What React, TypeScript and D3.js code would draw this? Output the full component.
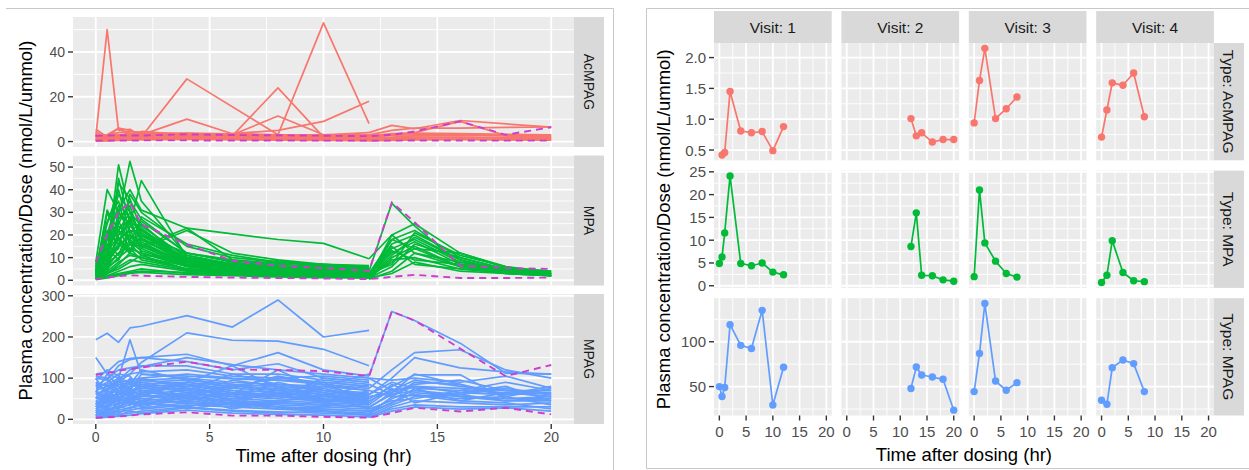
import React from "react";
import * as d3 from "d3";

// ---------- shared ----------
const TYPES = ["AcMPAG", "MPA", "MPAG"];
const TYPE_COLORS = ["#F8766D", "#00BA38", "#619CFF"];
const QUANTILE_COLOR = "#CC3FCC";

// ---------- left chart: all subjects ----------
const T_VISIT1 = [0, 0.5, 1, 1.5, 2, 4, 6, 8, 10, 12];
const T_VISIT2 = [12, 13, 14, 16, 18, 20];
const T_QUANT = [0, 0.5, 1, 1.5, 2, 4, 6, 8, 10, 12, 13, 14, 16, 18, 20];

type V = (number | null)[];

const ACMPAG_VISIT1: V[] = [
  [2, 50, 5, 5.5, 2, 2, 1.5, 1, 1, 1],
  [1, 1.5, 2, 2.5, 2, 28, null, 3, 2, 1.5],
  [1.5, 2, 2.5, 3, 3, 10, 3.5, 3, 2.5, 2],
  [2, 3, 6, 5, 3, 3.5, 3, 11.4, 3, 2.5],
  [1.2, 2.5, 3, 2, 2.5, 3, 2.5, 24, 2, 1.5],
  [3, 2, 2.5, 2, 3, 3, 2.5, 3, 53, 8],
  [1, 1.5, 2, 2, 2.5, 3, 3.5, 5, 9, 18],
  [5.5, 2, 6, 3, 4.5, 3, 2.5, 2, 2.5, 2],
  [4.5, 1, 1.5, 4.5, 4, 3, 2, 2, 3, 4],
  [0.5, 0.8, 1, 1.2, 1.3, 1.5, 1.3, 1.2, 1, 0.8],
  [1, 1.2, 1.5, 1.8, 2, 2.2, 2, 1.8, 1.5, 1.2],
  [1.5, 1.8, 2.2, 2.5, 2.8, 3, 2.6, 2.3, 2, 1.8],
  [0.3, 0.5, 0.7, 0.9, 1, 1.1, 1, 0.9, 0.7, 0.5],
  [2, 2.5, 3, 3.5, 3.2, 3.8, 3.4, 3, 2.6, 2.2],
  [0.8, 1, 1.3, 1.5, 1.7, 2, 1.7, 1.5, 1.3, 1],
  [1.2, 2, 2.8, 3, 3.5, 2.5, 2.2, 2, 1.8, 1.5],
  [0.2, 0.3, 0.5, 0.6, 0.8, 0.9, 0.8, 0.6, 0.5, 0.4],
  [2.5, 3, 4, 4.5, 4, 3.5, 3, 2.8, 3, 3],
  [0.6, 1.5, 2.4, 2, 1.5, 1.2, 1.8, 2.5, 1.5, 1],
];
const ACMPAG_VISIT2: V[] = [
  [4, 7.2, 5.7, 9.4, null, 6.4],
  [2, 3, 4, 9, 2.7, 2],
  [3, 5, 6, 6, 6.3, 6.5],
  [1, 1.2, 1.5, 1.8, 1.5, 1.2],
  [1.5, 2, 2.5, 2.8, 2.5, 2],
  [0.5, 0.8, 1, 1.2, 1, 0.8],
  [2, 2.8, 3, 3.2, 3, 2.6],
  [0.8, 1.5, 2, 2, 1.8, 1.5],
  [0.3, 0.5, 0.7, 0.8, 0.7, 0.6],
  [2.5, 3.5, 3.8, 3.5, 3.2, 3],
];
const ACMPAG_QUANT: V[] = [
  [2.6, 2.7, 2.8, 2.7, 2.7, 3.2, 2.9, 2.8, 2.6, 2.4, 3, 4.5, 9, 3, 6.4],
  [0.4, 0.4, 0.45, 0.45, 0.5, 0.5, 0.45, 0.45, 0.4, 0.4, 0.4, 0.45, 0.45, 0.4, 0.4],
];

const MPA_VISIT1: V[] = [
  [5, 12, 51, 30, 20, 9, 6, 5, 4, 3.5],
  [3, 10, 28, 52.5, 35, 11, 7, 5.5, 4.5, 3.5],
  [8, 40, 30, 25, 18, 8, 5.5, 4, 3.5, 3],
  [2, 8, 20, 25, 44, 10, 6.5, 5, 4, 3],
  [6, 20, 31, 40, 31, 23, 20.5, 18, 16.3, 9.5],
  [4, 31, 22, 18, 25, 8, 6, 5, 4.5, 4],
  [3, 8, 15, 20, 15, 23, 9, 6, 4.5, 3],
  [7, 18, 25, 35, 27, 12, 8, 6, 5, 4],
  [5, 14, 22, 30, 24, 10, 7, 5.5, 4.5, 4],
  [4, 12, 20, 26, 22, 9, 6.5, 5, 4, 3.5],
  [3, 10, 18, 22, 20, 8, 6, 4.5, 4, 3.5],
  [2, 8, 15, 20, 17, 7, 5, 4, 3.5, 3],
  [1, 6, 12, 16, 15, 6.5, 4.5, 3.5, 3, 2.5],
  [1, 5, 10, 14, 12, 6, 4, 3, 2.5, 2],
  [0.5, 4, 8, 11, 10, 5, 3.5, 3, 2.5, 2],
  [0.5, 3, 6, 9, 8, 4.5, 3, 2.5, 2, 1.5],
  [1, 2, 4, 6, 7, 4, 3, 2, 1.8, 1.5],
  [0.5, 2, 3, 4, 5, 3, 2.5, 1.8, 1.5, 1],
  [6, 25, 40, 20, 15, 8, 6.5, 5.5, 5, 4],
  [3, 30, 18, 12, 10, 6.5, 5, 4, 3.5, 3],
  [2, 5, 45, 25, 18, 9, 7, 6, 5.5, 5],
  [4, 10, 14, 38, 30, 15, 10, 8, 6.5, 5.5],
  [2, 18, 33, 28, 12, 7, 6, 8.7, 6, 4.5],
  [5, 9, 16, 12, 28, 16, 11, 8, 7, 6],
  [1, 4, 22, 14, 9, 5, 4, 3, 2.5, 2],
  [3, 6, 9, 18, 14, 22, 12, 9, 7, 5.5],
  [8, 7, 12, 16, 18, 9, 6.5, 5.5, 5, 4.5],
  [0.5, 15, 26, 17, 13, 7, 5, 4, 3.5, 3],
  [2, 12, 43, 36, 22, 11, 7, 5, 3.5, 3],
  [1.5, 3, 7, 12, 20, 12, 9, 7.5, 7, 6.5],
  [1.5, 12, 24, 19, 16, 7, 4.5, 3.5, 3, 2.5],
  [4, 22, 16, 28, 21, 9, 5.5, 4.5, 4, 3],
  [6, 9, 30, 22, 14, 6, 4, 3, 2.5, 1.5],
  [2.5, 16, 11, 24, 19, 7, 5, 4.5, 3, 2],
  [0.8, 7, 19, 13, 23, 8, 6, 5, 4.5, 4],
  [3.5, 26, 35, 16, 11, 5, 3.5, 2.5, 2, 1.5],
  [5, 11, 27, 33, 16, 8, 5.5, 3.5, 2.5, 2],
  [1, 3, 5, 8, 11, 10, 7.5, 6.5, 5.5, 4.5],
  [7, 14, 9, 21, 26, 12, 8.5, 7, 6, 5.5],
  [2, 20, 38, 30, 20, 10, 6, 4.5, 3.5, 2.5],
  [0.3, 1, 2, 3, 3.5, 2.5, 2, 1.5, 1.2, 1],
  [0.8, 1.5, 2.5, 3.5, 4, 3.5, 2.5, 2.2, 1.8, 1.6],
];
const MPA_VISIT2: V[] = [
  [4, 34, 24, 7, 5, 4],
  [9.5, 20, 25, 12, 5.6, 4],
  [3, 18, 22, 10, 5, 3],
  [2, 16, 20, 9, 4, 3],
  [2, 14, 18, 8, 5, 3],
  [1, 20, 12, 8, 4, 2],
  [3, 12, 17, 7, 4, 3],
  [1, 10, 15, 6, 3, 2],
  [2, 8, 14, 12, 6, 3],
  [1, 6, 16, 10, 5, 2],
  [1, 9, 10, 5, 3, 2],
  [0.5, 4, 12, 6, 4, 2],
  [1, 3, 8, 4, 3, 2],
  [2, 15, 7, 5, 4, 3],
  [1, 18, 14, 6, 5, 2],
  [1.5, 11, 19, 9, 4.5, 2.5],
  [3, 7, 21, 11, 6, 3.5],
  [0.8, 13, 9, 7, 3.5, 2.5],
];
const MPA_QUANT: V[] = [
  [7.9, 20, 30, 34.4, 24.7, 15.8, 8.6, 6.4, 5.4, 4.2, 34.4, 25.7, 6.4, 5.4, 5.0],
  [0.5, 1.2, 1.8, 2.2, 2, 1.5, 1.2, 1, 0.8, 0.5, 1.5, 2.4, 1, 1, 1.2],
];

const MPAG_VISIT1: V[] = [
  [193, 209, 187, 222, 226, 252, 224, 290, 200, 216],
  [60, 75, 90, 110, 138, 210, 192, 190, 170, 130],
  [150, 110, 100, 193, 110, 105, 98, 95, 90, 80],
  [100, 95, 130, 145, 150, 158, 130, 162, 120, 105],
  [110, 115, 140, 148, 150, 140, 120, 135, 100, 90],
  [105, 100, 120, 125, 130, 130, 110, 110, 95, 85],
  [90, 80, 95, 120, 128, 150, 133, 120, 110, 100],
  [80, 85, 100, 110, 115, 120, 105, 100, 90, 80],
  [70, 80, 90, 95, 100, 110, 100, 95, 85, 70],
  [60, 70, 85, 90, 95, 100, 90, 85, 80, 70],
  [55, 65, 75, 85, 90, 95, 85, 80, 70, 60],
  [50, 60, 70, 80, 85, 90, 80, 75, 65, 55],
  [45, 55, 62, 70, 80, 85, 75, 70, 60, 50],
  [40, 50, 60, 65, 75, 80, 70, 65, 55, 45],
  [35, 45, 55, 60, 70, 75, 65, 60, 50, 42],
  [30, 40, 50, 55, 62, 70, 60, 55, 48, 40],
  [25, 35, 45, 50, 55, 65, 55, 50, 45, 38],
  [20, 30, 38, 45, 50, 60, 50, 45, 40, 35],
  [15, 25, 32, 40, 45, 55, 45, 40, 35, 30],
  [10, 20, 28, 35, 40, 50, 40, 35, 30, 25],
  [8, 15, 22, 28, 35, 45, 35, 30, 25, 20],
  [5, 10, 18, 22, 28, 40, 30, 25, 20, 15],
  [5, 8, 12, 15, 20, 30, 22, 18, 15, 10],
  [3, 5, 8, 10, 14, 22, 15, 12, 10, 6],
  [100, 60, 45, 80, 100, 75, 60, 120, 70, 50],
  [20, 50, 100, 70, 40, 30, 50, 60, 90, 40],
  [65, 110, 80, 50, 60, 90, 130, 75, 60, 45],
  [40, 30, 60, 100, 80, 50, 40, 30, 25, 20],
  [85, 70, 50, 40, 35, 60, 80, 100, 105, 95],
  [30, 70, 95, 60, 50, 40, 35, 45, 55, 65],
  [12, 10, 25, 60, 90, 70, 45, 30, 20, 10],
  [75, 90, 110, 105, 70, 55, 45, 40, 35, 30],
  [55, 40, 70, 60, 85, 65, 50, 70, 45, 60],
  [35, 60, 40, 75, 55, 90, 70, 55, 75, 50],
  [25, 45, 65, 40, 70, 50, 85, 60, 40, 70],
  [70, 50, 35, 55, 45, 75, 55, 90, 65, 35],
  [15, 35, 50, 70, 60, 45, 65, 50, 80, 55],
  [45, 25, 55, 35, 65, 85, 45, 65, 55, 85],
  [90, 65, 75, 95, 65, 60, 95, 80, 50, 45],
  [10, 25, 15, 30, 25, 35, 30, 40, 35, 30],
  [40, 20, 30, 25, 45, 25, 40, 25, 30, 50],
  [65, 45, 85, 70, 110, 100, 75, 105, 85, 75],
  [20, 15, 40, 45, 30, 55, 25, 45, 60, 25],
  [50, 85, 60, 90, 75, 70, 110, 85, 70, 65],
  [8, 18, 10, 20, 15, 28, 20, 15, 20, 12],
  [30, 55, 25, 50, 35, 60, 35, 75, 40, 55],
  [80, 100, 65, 75, 95, 85, 65, 55, 100, 90],
  [95, 120, 105, 85, 120, 95, 85, 70, 80, 110],
];
const MPAG_VISIT2: V[] = [
  [105, 262, 240, 185, 112, 110],
  [75, 120, 162, 169, 120, 100],
  [60, 100, 150, 125, 115, 110],
  [50, 80, 108, 108, 50, 55],
  [100, 95, 100, 90, 105, 75],
  [45, 70, 95, 80, 70, 70],
  [30, 60, 80, 65, 60, 65],
  [20, 50, 70, 60, 75, 60],
  [15, 40, 65, 55, 50, 50],
  [10, 35, 55, 60, 45, 45],
  [5, 30, 45, 40, 35, 40],
  [8, 25, 35, 30, 30, 30],
  [5, 20, 30, 25, 28, 20],
  [100, 70, 80, 75, 70, 60],
  [60, 90, 75, 70, 65, 55],
  [40, 85, 60, 50, 55, 35],
  [25, 45, 50, 70, 90, 70],
  [12, 55, 58, 45, 40, 25],
  [70, 55, 90, 85, 60, 80],
  [35, 75, 40, 65, 80, 45],
  [55, 65, 85, 95, 70, 65],
  [18, 40, 75, 45, 65, 55],
  [85, 60, 70, 55, 45, 50],
  [28, 65, 110, 85, 55, 75],
];
const MPAG_QUANT: V[] = [
  [108, 112, 118, 122, 126, 140, 121, 120, 117, 105, 262, 240, 172, 105, 132],
  [4, 5, 7, 9, 12, 17, 9, 9, 6, 4, 15, 28, 19, 28, 12],
];

const LEFT_VISIT1 = [ACMPAG_VISIT1, MPA_VISIT1, MPAG_VISIT1];
const LEFT_VISIT2 = [ACMPAG_VISIT2, MPA_VISIT2, MPAG_VISIT2];
const LEFT_QUANT = [ACMPAG_QUANT, MPA_QUANT, MPAG_QUANT];

const LEFT_X_TICKS = [0, 5, 10, 15, 20];
const LEFT_Y_TICKS = [
  [0, 20, 40],
  [0, 10, 20, 30, 40, 50],
  [0, 100, 200, 300],
];

// ---------- right chart: one subject by visit ----------
const VISITS = ["1", "2", "3", "4"];
const R_TIMES_ACMPAG = [
  [0.5, 1, 2, 4, 6, 8, 10, 12],
  [12, 13, 14, 16, 18, 20],
  [0, 1, 2, 4, 6, 8],
  [0, 1, 2, 4, 6, 8],
];
const R_VALUES_ACMPAG = [
  [0.42, 0.46, 1.45, 0.81, 0.78, 0.8, 0.49, 0.88],
  [1.01, 0.73, 0.78, 0.63, 0.67, 0.67],
  [0.94, 1.63, 2.15, 1.01, 1.17, 1.36],
  [0.71, 1.15, 1.59, 1.55, 1.75, 1.04],
];
const R_TIMES_MPA = [
  [0, 0.5, 1, 2, 4, 6, 8, 10, 12],
  [12, 13, 14, 16, 18, 20],
  [0, 1, 2, 4, 6, 8],
  [0, 1, 2, 4, 6, 8],
];
const R_VALUES_MPA = [
  [4.9, 6.3, 11.6, 24.1, 4.9, 4.4, 5.0, 3.0, 2.4],
  [8.6, 16.0, 2.3, 2.2, 1.3, 1.0],
  [2.0, 21.0, 9.4, 5.4, 2.7, 1.9],
  [0.7, 2.3, 9.9, 2.9, 1.1, 0.9],
];
const R_TIMES_MPAG = [
  [0, 0.5, 1, 2, 4, 6, 8, 10, 12],
  [12, 13, 14, 16, 18, 20],
  [0, 1, 2, 4, 6, 8],
  [0, 1, 2, 4, 6, 8],
];
const R_VALUES_MPAG = [
  [50, 39, 49, 119, 96, 92.5, 135, 29.5, 71.5],
  [47.8, 71.8, 62.9, 60.7, 58.1, 23.7],
  [44.4, 87, 142.6, 56.2, 45.9, 54.4],
  [34.8, 30.3, 71.1, 79.6, 75.6, 44.4],
];
const R_TIMES = [R_TIMES_ACMPAG, R_TIMES_MPA, R_TIMES_MPAG];
const R_VALUES = [R_VALUES_ACMPAG, R_VALUES_MPA, R_VALUES_MPAG];

const RIGHT_X_TICKS = [0, 5, 10, 15, 20];
const RIGHT_Y_TICKS = [
  [0.5, 1.0, 1.5, 2.0],
  [0, 5, 10, 15, 20, 25],
  [50, 100],
];
const RIGHT_Y_LABELS = [
  ["0.5", "1.0", "1.5", "2.0"],
  ["0", "5", "10", "15", "20", "25"],
  ["50", "100"],
];

const X_TITLE = "Time after dosing (hr)";
const Y_TITLE = "Plasma concentration/Dose (nmol/L/ummol)";

// ---------- helpers ----------
const FONT = "'Liberation Sans', Arial, Helvetica, sans-serif";
const BG = "#EBEBEB";
const STRIP = "#D9D9D9";

function expand(vals: number[]): [number, number] {
  const lo = d3.min(vals) as number;
  const hi = d3.max(vals) as number;
  const r = hi - lo;
  return [lo - r * 0.05, hi + r * 0.05];
}

function minorBreaks(major: number[], dom: number[]): number[] {
  const step = major[1] - major[0];
  const ext = [major[0] - step, ...major, major[major.length - 1] + step];
  const out: number[] = [];
  for (let i = 0; i < ext.length - 1; i++) {
    const m = (ext[i] + ext[i + 1]) / 2;
    if (m >= dom[0] && m <= dom[1]) out.push(m);
  }
  return out;
}

function pairs(times: number[], vals: V): [number, number][] {
  const out: [number, number][] = [];
  times.forEach((t, i) => {
    const v = vals[i];
    if (v !== null && v !== undefined) out.push([t, v]);
  });
  return out;
}

function PanelBg(props: {
  x0: number; x1: number; y0: number; y1: number;
  xs: d3.ScaleLinear<number, number>; ys: d3.ScaleLinear<number, number>;
  xMajor: number[]; yMajor: number[];
}) {
  const { x0, x1, y0, y1, xs, ys, xMajor, yMajor } = props;
  const xd = xs.domain();
  const yd = ys.domain();
  const xMin = minorBreaks(xMajor, xd);
  const yMin = minorBreaks(yMajor, yd);
  const inX = xMajor.filter((v) => v >= xd[0] && v <= xd[1]);
  const inY = yMajor.filter((v) => v >= yd[0] && v <= yd[1]);
  return (
    <g>
      <rect x={x0} y={y0} width={x1 - x0} height={y1 - y0} fill={BG} />
      {yMin.map((v, i) => (
        <line key={"ym" + i} x1={x0} x2={x1} y1={ys(v)} y2={ys(v)} stroke="#fff" strokeWidth={0.9} />
      ))}
      {xMin.map((v, i) => (
        <line key={"xm" + i} y1={y0} y2={y1} x1={xs(v)} x2={xs(v)} stroke="#fff" strokeWidth={0.9} />
      ))}
      {inY.map((v, i) => (
        <line key={"yM" + i} x1={x0} x2={x1} y1={ys(v)} y2={ys(v)} stroke="#fff" strokeWidth={1.8} />
      ))}
      {inX.map((v, i) => (
        <line key={"xM" + i} y1={y0} y2={y1} x1={xs(v)} x2={xs(v)} stroke="#fff" strokeWidth={1.8} />
      ))}
    </g>
  );
}

// ---------- left chart ----------
function LeftChart() {
  const x0 = 73, x1 = 574;
  const rows: [number, number][] = [[17, 147], [155.5, 285.5], [294, 424]];
  const sx0 = 574, sx1 = 604;
  const xs = d3.scaleLinear().domain(expand([0, 20])).range([x0, x1]);
  const tickFs = 14;
  const lw = 1.7;
  return (
    <g>
      {TYPES.map((type, ti) => {
        const [y0, y1] = rows[ti];
        const all: number[] = [];
        [...LEFT_VISIT1[ti], ...LEFT_VISIT2[ti], ...LEFT_QUANT[ti]].forEach((a) =>
          a.forEach((v) => { if (v !== null) all.push(v); })
        );
        const ys = d3.scaleLinear().domain(expand(all)).range([y1, y0]);
        const line = d3.line<[number, number]>().x((d) => xs(d[0])).y((d) => ys(d[1]));
        const color = TYPE_COLORS[ti];
        return (
          <g key={type}>
            <PanelBg x0={x0} x1={x1} y0={y0} y1={y1} xs={xs} ys={ys} xMajor={LEFT_X_TICKS} yMajor={LEFT_Y_TICKS[ti]} />
            {LEFT_VISIT1[ti].map((vals, i) => (
              <path key={"a" + i} d={line(pairs(T_VISIT1, vals)) || ""} fill="none" stroke={color} strokeWidth={lw} strokeLinejoin="round" />
            ))}
            {LEFT_VISIT2[ti].map((vals, i) => (
              <path key={"b" + i} d={line(pairs(T_VISIT2, vals)) || ""} fill="none" stroke={color} strokeWidth={lw} strokeLinejoin="round" />
            ))}
            {LEFT_QUANT[ti].map((vals, i) => (
              <path key={"q" + i} d={line(pairs(T_QUANT, vals)) || ""} fill="none" stroke={QUANTILE_COLOR} strokeWidth={1.9} strokeDasharray="7,5" />
            ))}
            <rect x={sx0} y={y0} width={sx1 - sx0} height={y1 - y0} fill={STRIP} />
            <text
              transform={`translate(${(sx0 + sx1) / 2},${(y0 + y1) / 2}) rotate(90)`}
              textAnchor="middle" dominantBaseline="central" fontSize={14} fill="#1A1A1A"
            >{type}</text>
            {LEFT_Y_TICKS[ti].map((v) => (
              <g key={"yt" + v}>
                <line x1={x0 - 5} x2={x0} y1={ys(v)} y2={ys(v)} stroke="#333" strokeWidth={1.4} />
                <text x={x0 - 8} y={ys(v)} textAnchor="end" dominantBaseline="central" fontSize={tickFs} fill="#4D4D4D">{v}</text>
              </g>
            ))}
          </g>
        );
      })}
      {LEFT_X_TICKS.map((v) => (
        <g key={"xt" + v}>
          <line x1={xs(v)} x2={xs(v)} y1={424} y2={429} stroke="#333" strokeWidth={1.4} />
          <text x={xs(v)} y={442} textAnchor="middle" fontSize={tickFs} fill="#4D4D4D">{v}</text>
        </g>
      ))}
      <text x={(x0 + x1) / 2} y={461.5} textAnchor="middle" fontSize={18.5} fill="#000">{X_TITLE}</text>
      <text transform={`translate(25,${(rows[0][0] + rows[2][1]) / 2}) rotate(-90)`} textAnchor="middle" dominantBaseline="central" fontSize={18.5} fill="#000">{Y_TITLE}</text>
    </g>
  );
}

// ---------- right chart ----------
function RightChart() {
  const cols: [number, number][] = [[714, 831.7], [841.4, 959.1], [968.8, 1086.5], [1096.2, 1213.9]];
  const rows: [number, number][] = [[43, 160.3], [170.6, 287.9], [298.2, 415.5]];
  const stripTop = 11;
  const sx0 = 1213.9, sx1 = 1244;
  const tickFs = 15;
  return (
    <g>
      {VISITS.map((v, ci) => (
        <g key={"st" + v}>
          <rect x={cols[ci][0]} y={stripTop} width={cols[ci][1] - cols[ci][0]} height={rows[0][0] - stripTop} fill={STRIP} />
          <text x={(cols[ci][0] + cols[ci][1]) / 2} y={(stripTop + rows[0][0]) / 2} textAnchor="middle" dominantBaseline="central" fontSize={15.5} fill="#1A1A1A">{"Visit: " + v}</text>
        </g>
      ))}
      {TYPES.map((type, ti) => {
        const [y0, y1] = rows[ti];
        const all: number[] = [];
        R_VALUES[ti].forEach((a) => a.forEach((x) => all.push(x)));
        const ys = d3.scaleLinear().domain(expand(all)).range([y1, y0]);
        const color = TYPE_COLORS[ti];
        return (
          <g key={type}>
            {VISITS.map((vis, ci) => {
              const xs = d3.scaleLinear().domain(expand([0, 20])).range(cols[ci]);
              const line = d3.line<[number, number]>().x((d) => xs(d[0])).y((d) => ys(d[1]));
              const pts = pairs(R_TIMES[ti][ci], R_VALUES[ti][ci]);
              return (
                <g key={vis}>
                  <PanelBg x0={cols[ci][0]} x1={cols[ci][1]} y0={y0} y1={y1} xs={xs} ys={ys} xMajor={RIGHT_X_TICKS} yMajor={RIGHT_Y_TICKS[ti]} />
                  <path d={line(pts) || ""} fill="none" stroke={color} strokeWidth={1.7} strokeLinejoin="round" />
                  {pts.map((p, i) => (
                    <circle key={i} cx={xs(p[0])} cy={ys(p[1])} r={3.7} fill={color} />
                  ))}
                  {ti === 2 &&
                    RIGHT_X_TICKS.map((t) => (
                      <g key={"xt" + t}>
                        <line x1={xs(t)} x2={xs(t)} y1={y1} y2={y1 + 5} stroke="#333" strokeWidth={1.4} />
                        <text x={xs(t)} y={y1 + 21} textAnchor="middle" fontSize={tickFs} fill="#4D4D4D">{t}</text>
                      </g>
                    ))}
                </g>
              );
            })}
            <rect x={sx0} y={y0} width={sx1 - sx0} height={y1 - y0} fill={STRIP} />
            <text
              transform={`translate(${(sx0 + sx1) / 2},${(y0 + y1) / 2}) rotate(90)`}
              textAnchor="middle" dominantBaseline="central" fontSize={15.5} fill="#1A1A1A"
            >{"Type: " + type}</text>
            {RIGHT_Y_TICKS[ti].map((v, i) => (
              <g key={"yt" + i}>
                <line x1={cols[0][0] - 5} x2={cols[0][0]} y1={ys(v)} y2={ys(v)} stroke="#333" strokeWidth={1.4} />
                <text x={cols[0][0] - 8} y={ys(v)} textAnchor="end" dominantBaseline="central" fontSize={tickFs} fill="#4D4D4D">{RIGHT_Y_LABELS[ti][i]}</text>
              </g>
            ))}
          </g>
        );
      })}
      <text x={(cols[0][0] + cols[3][1]) / 2} y={461} textAnchor="middle" fontSize={18.5} fill="#000">{X_TITLE}</text>
      <text transform={`translate(663,${(rows[0][0] + rows[2][1]) / 2}) rotate(-90)`} textAnchor="middle" dominantBaseline="central" fontSize={18.5} fill="#000">{Y_TITLE}</text>
    </g>
  );
}

export default function App() {
  return (
    <svg
      width={1249}
      height={470}
      viewBox="0 0 1249 470"
      style={{ position: "fixed", left: 0, top: 0, display: "block", background: "#fff" }}
      fontFamily={FONT}
    >
      <rect x={0} y={0} width={1249} height={470} fill="#fff" />
      <line x1={6} x2={613.5} y1={8.5} y2={8.5} stroke="#C8C8C8" strokeWidth={1} />
      <line x1={613.5} x2={613.5} y1={8.5} y2={470} stroke="#C8C8C8" strokeWidth={1} />
      <line x1={646.5} x2={1249} y1={8.5} y2={8.5} stroke="#C8C8C8" strokeWidth={1} />
      <line x1={646.5} x2={646.5} y1={8.5} y2={468.5} stroke="#C8C8C8" strokeWidth={1} />
      <line x1={646.5} x2={1249} y1={468.5} y2={468.5} stroke="#C8C8C8" strokeWidth={1} />
      <LeftChart />
      <RightChart />
    </svg>
  );
}
